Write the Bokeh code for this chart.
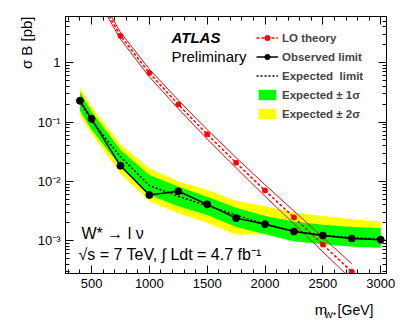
import math
from bokeh.plotting import figure
from bokeh.layouts import column
from bokeh.models import (Range1d, LinearAxis, LogAxis, FixedTicker, Label, Legend,
                          LegendItem, CustomJSTickFormatter, Title)
from bokeh.embed import file_html
from bokeh.resources import INLINE

# ---------------- data ----------------
mass = [400, 500, 750, 1000, 1250, 1500, 1750, 2000, 2250, 2500, 2750, 3000]
observed = [0.228, 0.113, 0.0183, 0.0059, 0.0068, 0.0041, 0.0024, 0.0019, 0.00143, 0.00122, 0.00109, 0.00104]
expected = [0.22, 0.105, 0.026, 0.0085, 0.0056, 0.0039, 0.0027, 0.0019, 0.00145, 0.00124, 0.00112, 0.00107]
exp_p1 = [0.32, 0.15, 0.034, 0.0128, 0.0082, 0.0055, 0.0036, 0.0026, 0.0021, 0.00186, 0.0017, 0.00164]
exp_m1 = [0.155, 0.075, 0.018, 0.0059, 0.0038, 0.0027, 0.0017, 0.00128, 0.00098, 0.00087, 0.0008, 0.00076]
exp_p2 = [0.38, 0.18, 0.042, 0.0166, 0.0099, 0.0072, 0.0047, 0.0038, 0.003, 0.0026, 0.0023, 0.0021]
exp_m2 = [0.13, 0.064, 0.0135, 0.0046, 0.0029, 0.002, 0.00126, 0.00128, 0.00098, 0.00087, 0.0008, 0.00076]

theory_mass = [500, 750, 1000, 1250, 1500, 1750, 2000, 2250, 2500, 2750]
theory = [20.0, 2.85, 0.67, 0.198, 0.062, 0.0206, 0.007, 0.00247, 0.00086, 0.0003]
theory_up = [22.6, 3.25, 0.777, 0.234, 0.0744, 0.0251, 0.00875, 0.00316, 0.00114, 0.000408]
theory_dn = [17.7, 2.5, 0.578, 0.168, 0.0517, 0.0169, 0.0056, 0.00193, 0.00065, 0.00022]

x_major = [500, 1000, 1500, 2000, 2500, 3000]
y_major = [1e-3, 1e-2, 1e-1, 1.0]

# ---------------- layout ----------------
W, H = 407, 300          # main plot
H2 = 27                  # strip below holding the x-axis title
BL, BR, BT, BB = 65, 21, 16, 27
X0, X1 = 275, 3050
Y0, Y1 = 2.8e-4, 6.0
FONT = "Liberation Sans"

p = figure(width=W, height=H, x_range=Range1d(X0, X1), y_range=Range1d(Y0, Y1),
           y_axis_type="log", output_backend="svg", toolbar_location=None,
           min_border_left=BL, min_border_right=BR, min_border_top=BT, min_border_bottom=BB)
p.xgrid.visible = False
p.ygrid.visible = False
p.outline_line_color = "black"
p.outline_line_width = 1
p.background_fill_color = "white"
p.border_fill_color = "white"

x_minor = list(range(300, 3001, 100))
y_minor = [m * 10 ** e for e in range(-4, 1) for m in range(2, 10)]
xt = FixedTicker(ticks=x_major, minor_ticks=x_minor)
yt = FixedTicker(ticks=y_major, minor_ticks=y_minor)

yfmt = CustomJSTickFormatter(code="""
const e = Math.round(Math.log10(tick));
if (e === 0) return "1";
const sup = {"-": "\\u207b", "0": "\\u2070", "1": "\\u00b9", "2": "\\u00b2", "3": "\\u00b3", "4": "\\u2074"};
return "10" + String(e).split("").map(c => sup[c]).join("");
""")
blank = CustomJSTickFormatter(code="return '';")


def style_axis(ax, labels=True):
    ax.axis_line_color = "black"
    ax.major_tick_line_color = "black"
    ax.minor_tick_line_color = "black"
    ax.major_tick_in = 8
    ax.major_tick_out = 0
    ax.minor_tick_in = 4
    ax.minor_tick_out = 0
    if labels:
        ax.major_label_text_font = FONT
        ax.major_label_text_font_size = "13px"
        ax.major_label_text_color = "black"
        ax.major_label_standoff = 5
    else:
        ax.formatter = blank
        ax.major_label_text_font_size = "1px"
        ax.major_label_standoff = 0


xa = p.xaxis[0]
xa.ticker = xt
style_axis(xa)
ya = p.yaxis[0]
ya.ticker = yt
ya.formatter = yfmt
style_axis(ya)

top = LinearAxis(ticker=xt)
style_axis(top, labels=False)
p.add_layout(top, "above")
right = LogAxis(ticker=yt)
style_axis(right, labels=False)
p.add_layout(right, "right")

# y-axis title, placed at the top end of the axis (ROOT style)
p.add_layout(Title(text="\u03c3 B [pb]", align="right", text_font=FONT, text_font_size="15px",
                   text_font_style="normal", text_color="black", standoff=0), "left")

# ---------------- glyphs ----------------
r2 = p.varea(x=mass, y1=exp_m2, y2=exp_p2, fill_color="#ffff00")
r1 = p.varea(x=mass, y1=exp_m1, y2=exp_p1, fill_color="#00ff00")

p.line(theory_mass, theory_up, line_color="red", line_width=1)
p.line(theory_mass, theory_dn, line_color="red", line_width=1)
rt_l = p.line(theory_mass, theory, line_color="red", line_width=1.5, line_dash="3 2")
rt_p = p.scatter(theory_mass, theory, marker="circle", size=5, fill_color="red", line_color="red")

re_l = p.line(mass, expected, line_color="black", line_width=1.5, line_dash="2 2")
ro_l = p.line(mass, observed, line_color="black", line_width=1.5)
ro_p = p.scatter(mass, observed, marker="circle", size=7, fill_color="black", line_color="black")

legend = Legend(items=[
    LegendItem(label="LO theory", renderers=[rt_l, rt_p]),
    LegendItem(label="Observed limit", renderers=[ro_l, ro_p]),
    LegendItem(label="Expected  limit", renderers=[re_l]),
    LegendItem(label="Expected \u00b1 1\u03c3", renderers=[r1]),
    LegendItem(label="Expected \u00b1 2\u03c3", renderers=[r2]),
], location=(191, 153), label_text_font=FONT, label_text_font_style="bold",
    label_text_font_size="11.5px", glyph_width=22, glyph_height=13, label_height=13,
    label_standoff=4, spacing=6, padding=0, margin=0, border_line_color=None,
    background_fill_alpha=0)
p.add_layout(legend)


def lab(text, px, py, size="15px", align="left", style="normal"):
    # px, py: page pixel position -> screen offsets from the frame's bottom-left corner
    p.add_layout(Label(x=px - BL, y=(H - BB) - py, x_units="screen", y_units="screen",
                       text=text, text_font=FONT, text_font_size=size,
                       text_align=align, text_baseline="middle", text_font_style=style,
                       text_color="black"))


lab("ATLAS", 171, 37, style="bold italic")
lab("Preliminary", 171, 56)
lab("W* \u2192 l \u03bd", 81, 233, size="16px")
lab("\u221as = 7 TeV,  \u222b Ldt = 4.7 fb\u207b\u00b9", 78, 253.5, size="16px")

# ---------------- x-axis title strip (own figure, data units = pixels) ----------------
p2 = figure(width=W, height=H2, x_range=Range1d(0, W), y_range=Range1d(0, H2),
            output_backend="svg", toolbar_location=None, x_axis_location=None,
            y_axis_location=None, min_border_left=0, min_border_right=0,
            min_border_top=0, min_border_bottom=0)
p2.xgrid.visible = False
p2.ygrid.visible = False
p2.outline_line_color = None
p2.background_fill_color = "white"
p2.border_fill_color = "white"


def lab2(text, px, py, size="15px", align="left"):
    p2.add_layout(Label(x=px, y=H2 - (py - H), text=text, text_font=FONT,
                        text_font_size=size, text_align=align, text_baseline="middle",
                        text_color="black"))


lab2("m", 316, 309)
lab2("W*", 328, 314, size="9px")
lab2("[GeV]", 345, 309, size="14px")

open("out.html", "w").write(file_html(column(p, p2, spacing=0), INLINE))
